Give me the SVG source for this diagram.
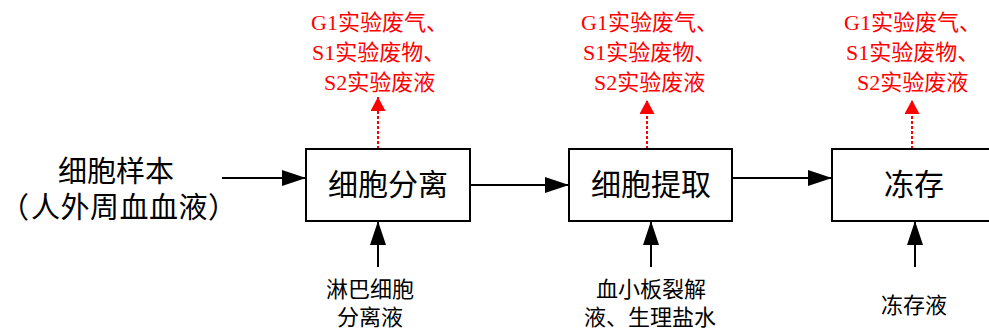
<svg xmlns="http://www.w3.org/2000/svg" width="989" height="331" viewBox="0 0 989 331">
<style>
.box{fill:#fff;stroke:#000;stroke-width:2}
.t{font-family:"Liberation Serif","Noto Sans CJK SC",serif;fill:#000}
.big{font-size:29px;text-anchor:middle}
.sm{font-size:22px;text-anchor:middle}
.red{font-family:"Liberation Serif","Noto Sans CJK SC",serif;fill:#ff0000;font-size:22px}
.ln{stroke:#000;stroke-width:2;fill:none;marker-end:url(#ah)}
.rd{stroke:#ff0000;stroke-width:2;stroke-dasharray:3 2;fill:none;marker-end:url(#rh)}
</style>
<defs>
<marker id="ah" markerUnits="userSpaceOnUse" markerWidth="24" markerHeight="16" refX="24" refY="8" orient="auto"><path d="M0,0 L24,8 L0,16 z" fill="#000"/></marker>
<marker id="rh" markerUnits="userSpaceOnUse" markerWidth="14" markerHeight="15" refX="14" refY="7.5" orient="auto"><path d="M0,0 L14,7.5 L0,15 z" fill="#ff0000"/></marker>
</defs>
<rect width="989" height="331" fill="#fff"/>
<g id="connectors">
<line class="ln" x1="222" y1="178" x2="306" y2="178"/>
<line class="ln" x1="470" y1="185" x2="569" y2="185"/>
<line class="ln" x1="732" y1="178" x2="832" y2="178"/>
<line class="ln" x1="378" y1="267" x2="378" y2="221"/>
<line class="ln" x1="651" y1="267" x2="651" y2="221"/>
<line class="ln" x1="915" y1="267" x2="915" y2="221"/>
<line class="rd" x1="378" y1="149" x2="378" y2="97"/>
<line class="rd" x1="647" y1="149" x2="647" y2="100"/>
<line class="rd" x1="912" y1="149" x2="912" y2="100"/>
</g>
<g id="sample">
<text class="t big" x="116" y="182">细胞样本</text>
<text class="t" font-size="29" x="0 31 60.5 90 119.5 149 178.5 208" y="218">（人外周血血液）</text>
</g>
<g id="node-separate">
<rect class="box" x="306" y="149" width="164" height="72"/>
<text class="t" x="388" y="195" font-size="30" text-anchor="middle">细胞分离</text>
</g>
<g id="node-extract">
<rect class="box" x="569" y="149" width="163" height="72"/>
<text class="t" x="651" y="195" font-size="30" text-anchor="middle">细胞提取</text>
</g>
<g id="node-freeze">
<rect class="box" x="832" y="149" width="164" height="72"/>
<text class="t" x="914" y="195" font-size="30" text-anchor="middle">冻存</text>
</g>
<g id="waste1">
<text class="red" x="311" y="30">G1实验废气、</text>
<text class="red" x="312" y="60">S1实验废物、</text>
<text class="red" x="324" y="90">S2实验废液</text>
</g>
<g id="waste2">
<text class="red" x="581" y="30">G1实验废气、</text>
<text class="red" x="583" y="60">S1实验废物、</text>
<text class="red" x="594" y="90">S2实验废液</text>
</g>
<g id="waste3">
<text class="red" x="844" y="30">G1实验废气、</text>
<text class="red" x="846" y="60">S1实验废物、</text>
<text class="red" x="857" y="90">S2实验废液</text>
</g>
<g id="input1">
<text class="t sm" x="370" y="297">淋巴细胞</text>
<text class="t sm" x="370" y="325">分离液</text>
</g>
<g id="input2">
<text class="t sm" x="651" y="297">血小板裂解</text>
<text class="t sm" x="650" y="325">液、生理盐水</text>
</g>
<g id="input3">
<text class="t sm" x="914" y="313">冻存液</text>
</g>
</svg>
